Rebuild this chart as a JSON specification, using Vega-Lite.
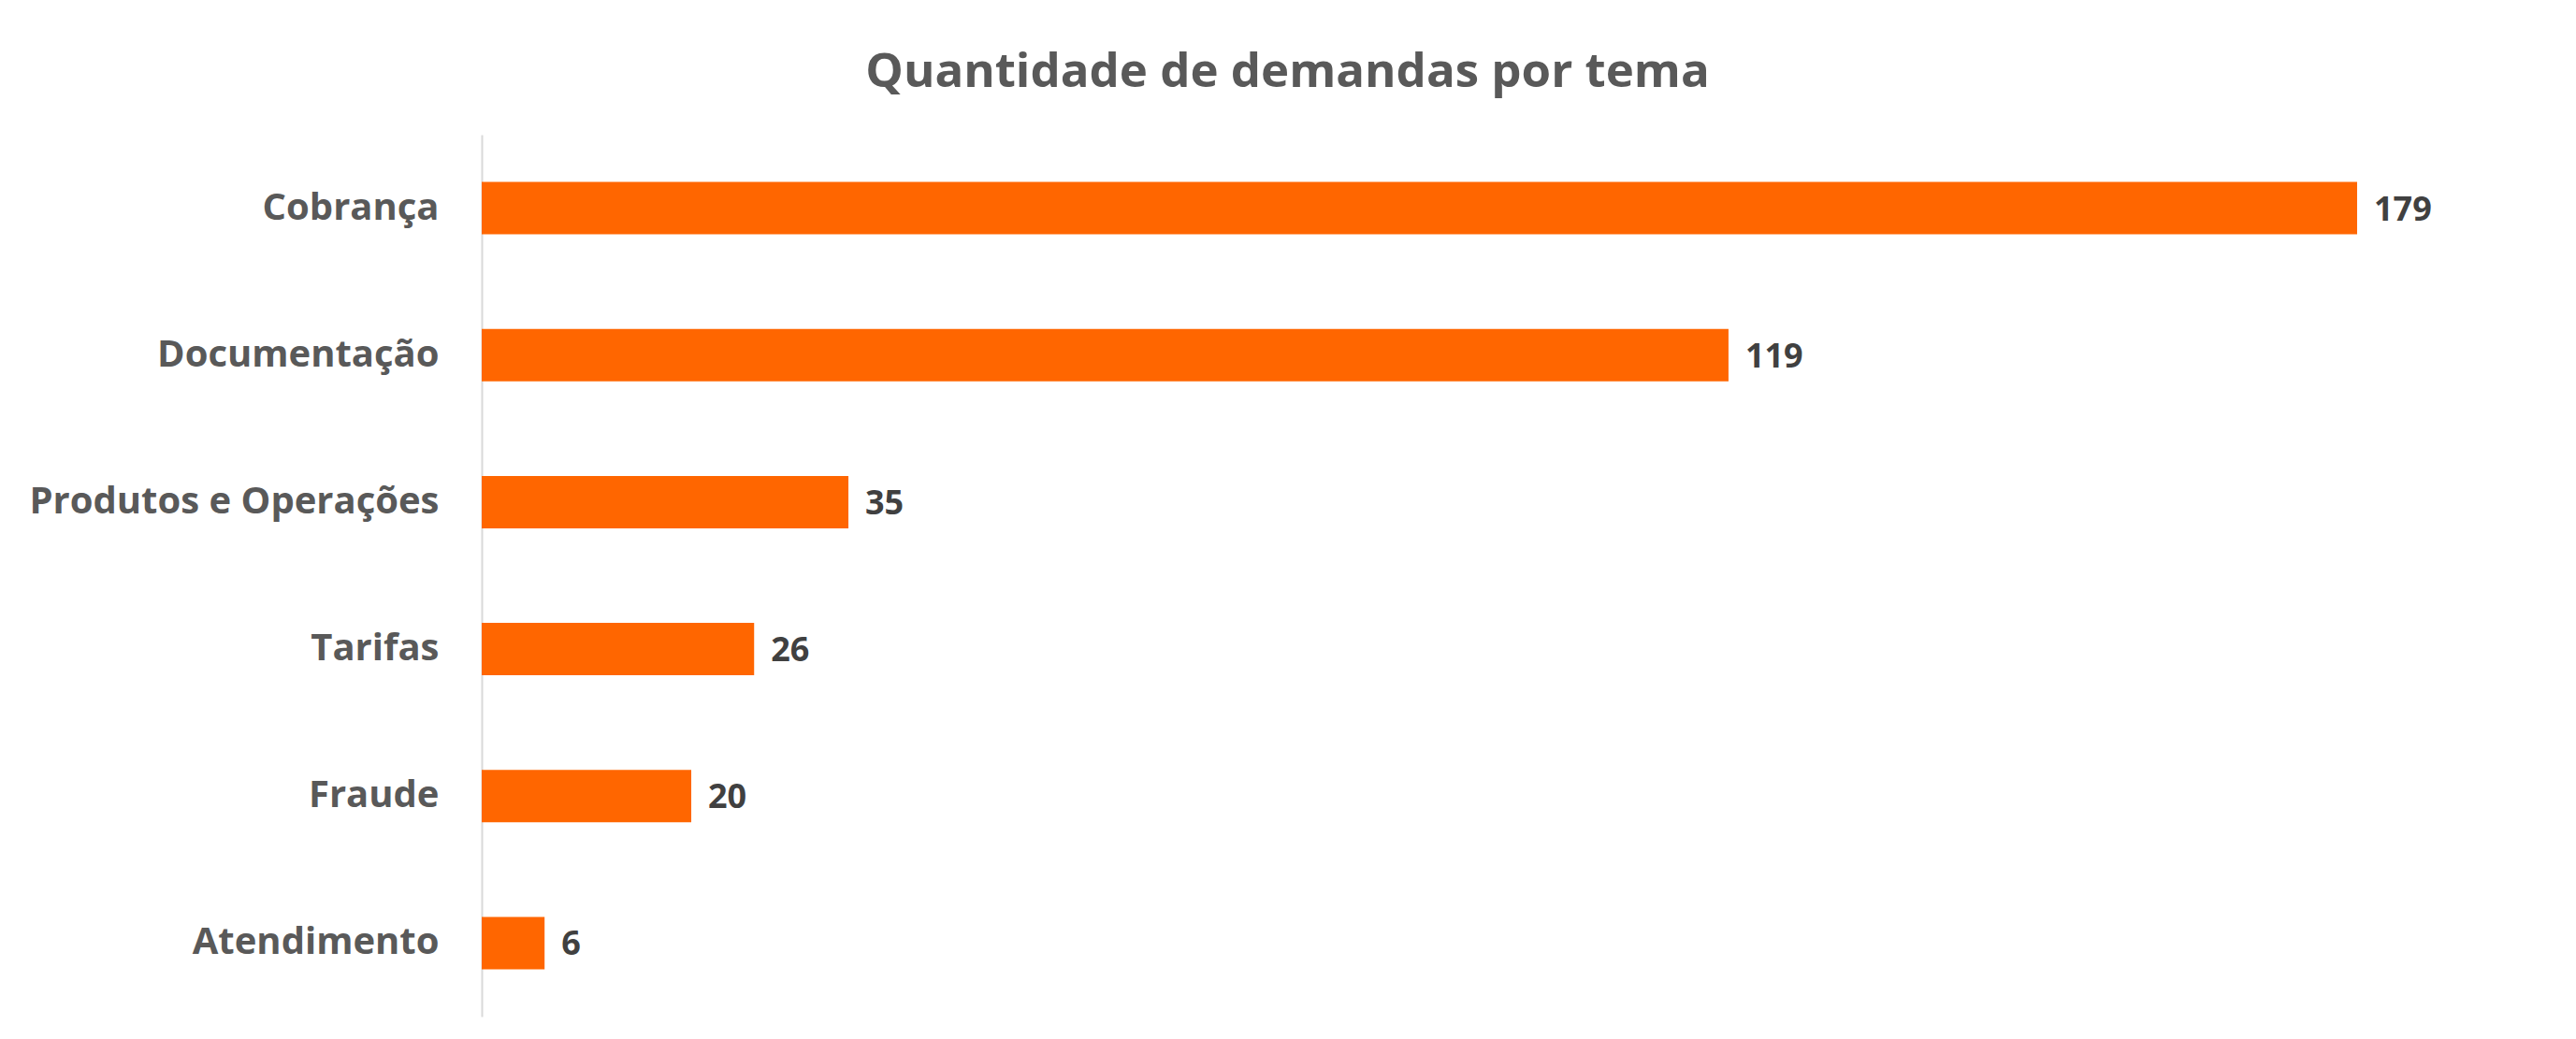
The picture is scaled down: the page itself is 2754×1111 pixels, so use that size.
{
  "$schema": "https://vega.github.io/schema/vega-lite/v6.json",
  "autosize": {"type": "none"},
  "padding": {"left": 515, "top": 144, "right": 234, "bottom": 24},
  "width": 2005,
  "height": 943,
  "background": "white",
  "title": {
    "text": "Quantidade de demandas por tema",
    "font": "Open Sans",
    "fontSize": 51,
    "fontWeight": "bold",
    "color": "#595959",
    "anchor": "middle",
    "frame": "group",
    "baseline": "alphabetic",
    "offset": 50,
    "dx": -141,
    "dy": 50
  },
  "data": {
    "values": [
      {"tema": "Cobrança", "quantidade": 179},
      {"tema": "Documentação", "quantidade": 119},
      {"tema": "Produtos e Operações", "quantidade": 35},
      {"tema": "Tarifas", "quantidade": 26},
      {"tema": "Fraude", "quantidade": 20},
      {"tema": "Atendimento", "quantidade": 6}
    ]
  },
  "encoding": {
    "y": {
      "field": "tema",
      "type": "nominal",
      "sort": "-x",
      "scale": {"paddingInner": 0.644, "paddingOuter": 0.322},
      "axis": {
        "title": null,
        "ticks": false,
        "labelPadding": 46,
        "labelFont": "Open Sans",
        "labelFontSize": 40,
        "labelFontWeight": "bold",
        "labelColor": "#595959",
        "domainColor": "#d9d9d9",
        "domainWidth": 2,
        "labelLimit": 1000
      }
    },
    "x": {
      "field": "quantidade",
      "type": "quantitative",
      "scale": {"domain": [0, 179], "nice": false, "zero": true},
      "axis": null
    }
  },
  "layer": [
    {"mark": {"type": "bar", "color": "#FF6600", "clip": false}},
    {
      "mark": {
        "type": "text",
        "align": "left",
        "baseline": "middle",
        "dx": 18,
        "dy": 2,
        "font": "Open Sans",
        "fontSize": 36,
        "fontWeight": "bold",
        "color": "#404040"
      },
      "encoding": {"text": {"field": "quantidade", "type": "quantitative"}}
    }
  ],
  "config": {"view": {"stroke": null}}
}
